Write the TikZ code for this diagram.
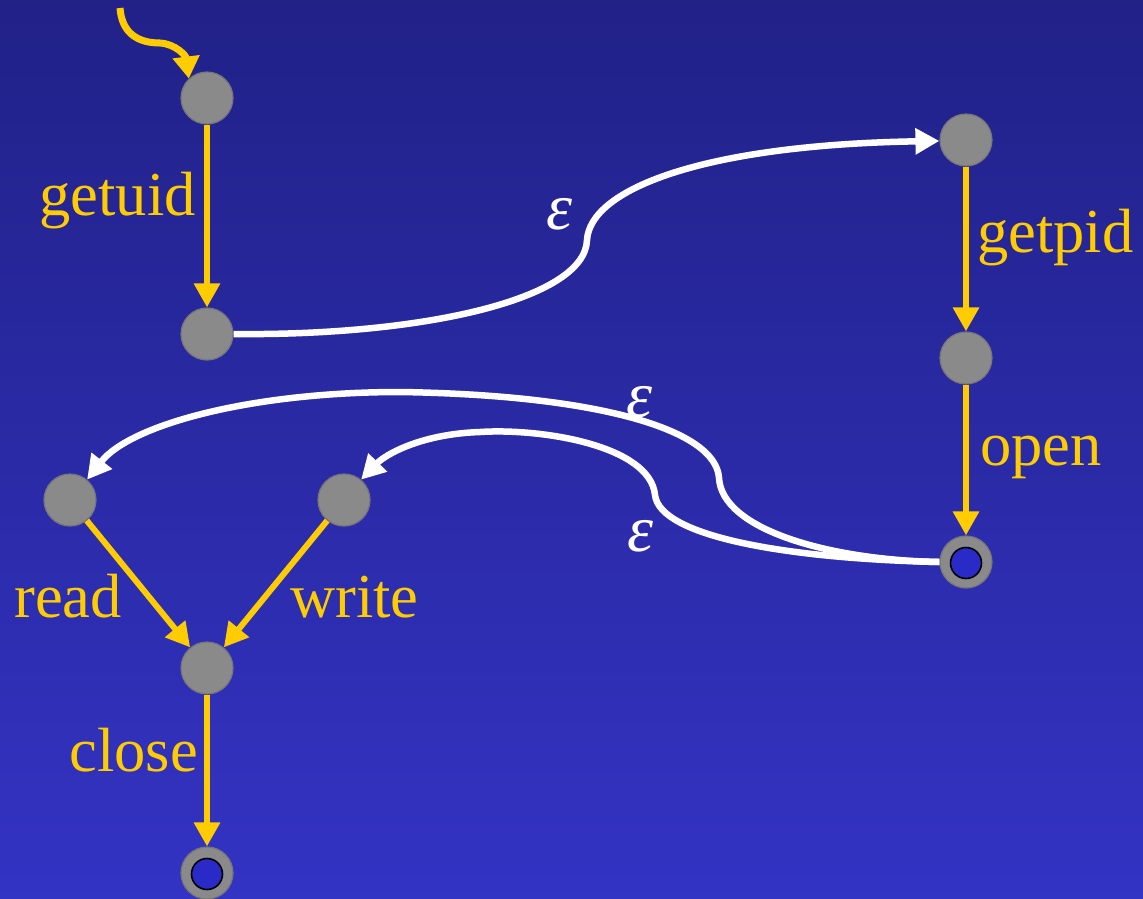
\documentclass[tikz,border=0pt]{standalone}
\usepackage{fontspec}
\setmainfont{Liberation Serif}
\usetikzlibrary{arrows.meta}
\definecolor{bgtop}{RGB}{33,33,136}
\definecolor{bgbot}{RGB}{51,51,196}
\definecolor{ylw}{RGB}{255,204,0}
\definecolor{nodegray}{RGB}{138,138,138}
\definecolor{rimgray}{RGB}{118,118,118}
\definecolor{innerblue}{RGB}{42,42,200}
\begin{document}
\begin{tikzpicture}[x=1pt,y=-1pt,
  state/.style={circle, fill=nodegray, draw=rimgray, line width=1.2pt, minimum size=52pt, inner sep=0pt},
  innerring/.style={circle, fill=innerblue, draw=black, line width=1.6pt, minimum size=31pt, inner sep=0pt},
  yedge/.style={draw=ylw, line width=6pt, -{Triangle[width=25pt,length=24pt]}},
  wedge/.style={draw=white, line width=6.5pt, -{Triangle[width=25pt,length=24pt]}},
  lbl/.style={text=ylw, inner sep=0pt, font=\fontsize{62.5pt}{70pt}\selectfont},
  eps/.style={text=white, inner sep=0pt, font=\fontsize{66pt}{70pt}\selectfont\itshape}]
\shade[top color=bgtop, bottom color=bgbot] (0,0) rectangle (1143,898);
\useasboundingbox (0,0) rectangle (1143,898);

% states
\node[state] (n1) at (207,98) {};
\node[state] (n2) at (207,334) {};
\node[state] (n3) at (966,140) {};
\node[state] (n4) at (966,358) {};
\node[state] (n5) at (966,562) {};
\node[innerring] (n5i) at (966,563) {};
\node[state] (n6) at (70,500) {};
\node[state] (n7) at (344,500) {};
\node[state] (n8) at (207,668) {};
\node[state] (n9) at (207,873) {};
\node[innerring] (n9i) at (207,874) {};

% start arrow
\coordinate (s) at (120,8);
\draw[draw=ylw, line width=7pt, -{Triangle[width=26pt,length=22pt]}]
  (s) .. controls (122,35) and (140,43) .. (160,43) .. controls (176,44) and (186,56) .. (n1.133);

% yellow transitions
\draw[yedge] (n1) -- (n2);
\draw[yedge] (n3) -- (n4);
\draw[yedge] (n4) -- (n5);
\draw[yedge] (n6) -- (n8);
\draw[yedge] (n7) -- (n8);
\draw[yedge] (n8) -- (n9);

% epsilon transitions
\draw[wedge] (n2.east) .. controls (420,336) and (585,300) .. (587,240)
  .. controls (590,190) and (700,145) .. (n3.182);
\draw[wedge] (n5.west) .. controls (830,560) and (722,530) .. (719,478)
  .. controls (716,430) and (600,395) .. (400,392)
  .. controls (250,392) and (130,425) .. (n6.50);
\draw[wedge] (n5.west) .. controls (795,559) and (660,538) .. (655,495)
  .. controls (650,445) and (540,428) .. (480,432)
  .. controls (420,434) and (385,455) .. (n7.50);

% labels
\node[lbl, anchor=base east] (lgetuid) at (196,215) {getuid};
\node[lbl, anchor=base west] (lgetpid) at (977,252) {getpid};
\node[lbl, anchor=base west] (lopen) at (980,465) {open};
\node[lbl, anchor=base west] (lread) at (14,617) {read};
\node[lbl, anchor=base west] (lwrite) at (290,617) {write};
\node[lbl, anchor=base east] (lclose) at (198,771) {close};
\node[eps] (e1) at (559,214) {ε};
\node[eps] (e2) at (639,402) {ε};
\node[eps] (e3) at (640,536) {ε};
\end{tikzpicture}
\end{document}
